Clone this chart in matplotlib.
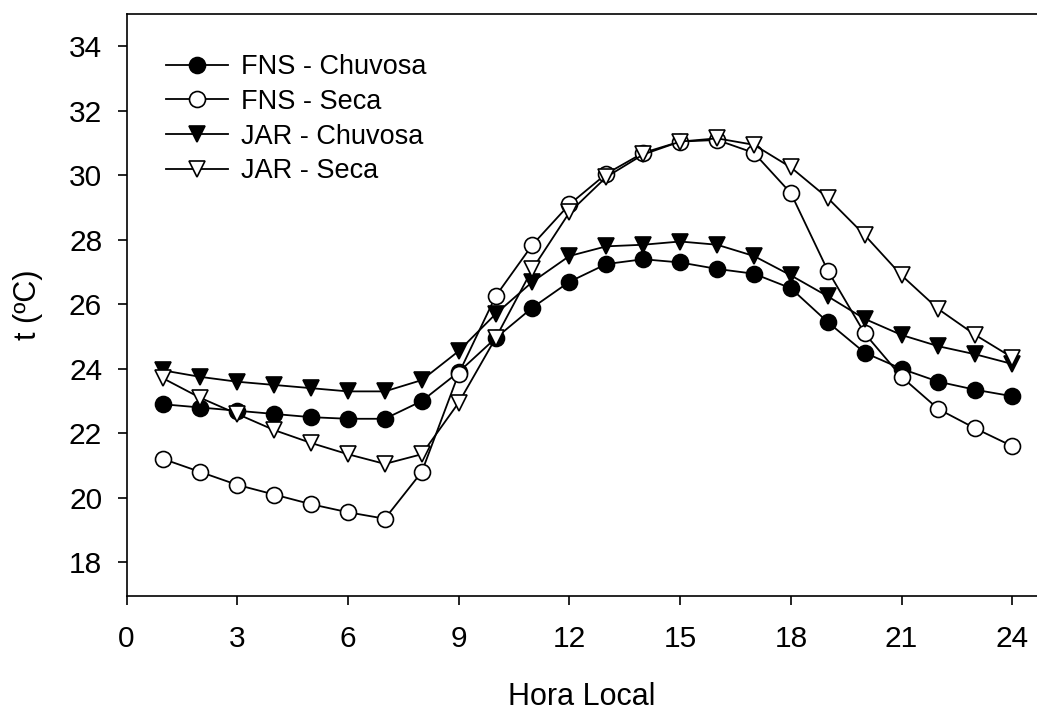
import numpy as np
from matplotlib import pyplot as plt

plt.rcParams["font.family"] = ["Liberation Sans", "DejaVu Sans"]

# hourly mean air temperature, two sites, rainy / dry season
hours = np.arange(1, 25)
fns_chuvosa = [22.9, 22.8, 22.7, 22.6, 22.5, 22.45, 22.45, 23.0, 23.9, 24.95, 25.9, 26.7,
               27.25, 27.4, 27.3, 27.1, 26.95, 26.5, 25.45, 24.5, 24.0, 23.6, 23.35, 23.15]
fns_seca = [21.2, 20.8, 20.4, 20.1, 19.8, 19.55, 19.35, 20.8, 23.85, 26.25, 27.85, 29.1,
            30.05, 30.7, 31.05, 31.1, 30.7, 29.45, 27.05, 25.1, 23.75, 22.75, 22.15, 21.6]
jar_chuvosa = [23.95, 23.75, 23.6, 23.5, 23.4, 23.3, 23.3, 23.65, 24.55, 25.7, 26.7, 27.5,
               27.8, 27.85, 27.95, 27.85, 27.5, 26.9, 26.25, 25.55, 25.05, 24.7, 24.45, 24.15]
jar_seca = [23.7, 23.1, 22.6, 22.1, 21.7, 21.35, 21.05, 21.35, 22.95, 24.95, 27.1, 28.85,
            29.95, 30.65, 31.05, 31.15, 30.95, 30.25, 29.3, 28.15, 26.9, 25.85, 25.05, 24.35]

series = [
    ("FNS - Chuvosa", fns_chuvosa, "o", "black"),
    ("FNS - Seca", fns_seca, "o", "white"),
    ("JAR - Chuvosa", jar_chuvosa, "v", "black"),
    ("JAR - Seca", jar_seca, "v", "white"),
]

x_ticks = [0, 3, 6, 9, 12, 15, 18, 21, 24]
y_ticks = [18, 20, 22, 24, 26, 28, 30, 32, 34]

fig = plt.figure(figsize=(10.37, 7.13), dpi=100)
ax = fig.add_axes([0.122, 0.164, 0.878, 0.816])

for label, vals, marker, face in series:
    ax.plot(hours, vals, color="black", lw=1.3, marker=marker, ms=11.5,
            mfc=face, mec="black", mew=1.2, label=label)

ax.set_xlim(0, 24.67)
ax.set_ylim(16.95, 35.0)
ax.set_xticks(x_ticks)
ax.set_yticks(y_ticks)
ax.spines["right"].set_visible(False)
for s in ("left", "bottom", "top"):
    ax.spines[s].set_linewidth(1.2)
ax.tick_params(direction="out", length=6.5, width=1.2, labelsize=21.5)
ax.tick_params(axis="x", pad=14)
ax.tick_params(axis="y", pad=11)

ax.set_xlabel("Hora Local", fontsize=22, labelpad=21)
ax.set_ylabel("t (ºC)", fontsize=22, labelpad=19)

leg = ax.legend(loc="upper left", bbox_to_anchor=(0.031, 0.95), frameon=False,
                fontsize=19.5, handlelength=2.3, handletextpad=0.5, labelspacing=0.32,
                markerscale=1.0, borderaxespad=0)

fig.savefig("out.png", dpi=100)
